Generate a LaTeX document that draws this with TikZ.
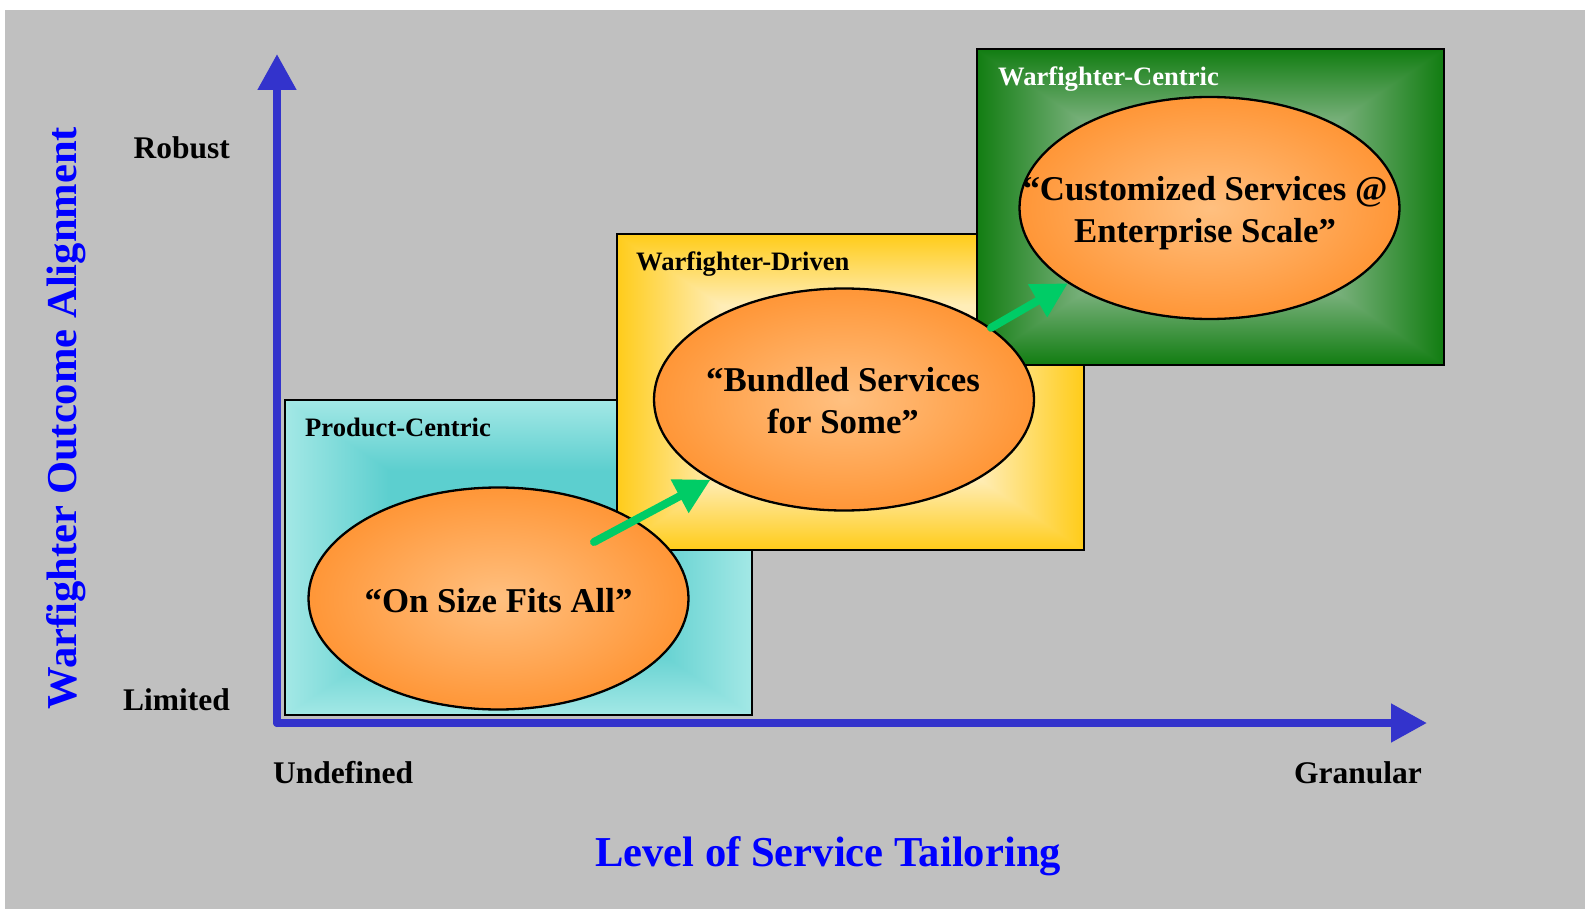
\documentclass[tikz,border=0pt]{standalone}
\usepackage{fontspec}
\setmainfont{Liberation Serif}
\usetikzlibrary{arrows.meta,shapes.geometric}

\definecolor{bggray}{HTML}{C0C0C0}
\definecolor{axisblue}{HTML}{3333CC}
\definecolor{titleblue}{HTML}{0000FF}
\definecolor{flowgreen}{HTML}{00CC66}
\definecolor{ovalin}{RGB}{255,192,128}
\definecolor{ovalout}{RGB}{255,150,55}

% Rectangular "from centre" gradient: edge colour at the border,
% inner colour reached a little more than half way in.
% #2/#4/#6 = inner - edge, #3/#5/#7 = edge (r,g,b)
\newcommand\rectgradient[7]{%
  \pgfdeclarefunctionalshading{#1}{\pgfpoint{-50bp}{-50bp}}{\pgfpoint{50bp}{50bp}}{}{%
    abs exch abs 2 copy lt {exch} if pop 25 div
    1 exch sub 0.45 div
    dup 1 gt {pop 1} if dup 0 lt {pop 0} if
    dup #2 mul #3 add exch
    dup #4 mul #5 add exch
    #6 mul #7 add}}
\rectgradient{cyanbox}{-0.28}{0.64}{-0.10}{0.91}{-0.09}{0.90}
\rectgradient{goldbox}{0}{1}{0.13}{0.80}{0.62}{0.10}
\rectgradient{greenbox}{0.40}{0.07}{0.20}{0.49}{0.41}{0.07}

\begin{document}
\begin{tikzpicture}[x=1pt,y=-1pt,
  stagebox/.style={rectangle, draw=black, line width=2pt, inner sep=0pt,
    minimum width=467, minimum height=315},
  stagelabel/.style={anchor=base west, inner sep=0pt,
    font=\fontsize{26.6}{32}\selectfont\bfseries},
  oval/.style={ellipse, draw=black, line width=2.3pt, inner sep=0pt,
    minimum width=380, minimum height=222, inner color=ovalin, outer color=ovalout},
  ovaltext/.style={align=center, anchor=base, inner sep=0pt,
    font=\fontsize{34.8}{42}\selectfont\bfseries},
  axislabel/.style={inner sep=0pt, font=\fontsize{31.5}{38}\selectfont\bfseries},
  axistitle/.style={inner sep=0pt, text=titleblue,
    font=\fontsize{42.6}{50}\selectfont\bfseries},
  axisline/.style={draw=axisblue, line width=8pt, line cap=round,
    -{Triangle[length=36pt,width=37pt]}},
  flow/.style={draw=flowgreen, line width=8pt, line cap=round,
    -{Triangle[length=35pt,width=36pt]}}]

\useasboundingbox (0,0) rectangle (1585,909);
\fill[white] (0,0) rectangle (1585,909);
\fill[bggray] (5,10) rectangle (1585,909);

% axes
\coordinate (O) at (277,723);
\coordinate (ytop) at (277,54);
\coordinate (xend) at (1427,723);
\draw[axisline] (O) -- (ytop);
\draw[axisline] (O) -- (xend);

\node[axislabel, anchor=base east] (robust) at (230,159) {Robust};
\node[axislabel, anchor=base east] (limited) at (230,710) {Limited};
\node[axislabel, anchor=base west] (undef) at (273,783) {Undefined};
\node[axislabel, anchor=base east] (gran) at (1422,783) {Granular};
\node[axistitle, anchor=base] (xtitle) at (828,866) {Level of Service Tailoring};
\node[axistitle, anchor=base, rotate=90] (ytitle) at (76,418) {Warfighter Outcome Alignment};

% stages
\node[stagebox, shading=cyanbox] (b1) at (518.5,557.5) {};
\node[stagebox, shading=goldbox] (b2) at (850,392) {};
\node[stagebox, shading=greenbox] (b3) at (1210,207) {};
\node[stagelabel] (l1) at (305,436.5) {Product-Centric};
\node[stagelabel] (l2) at (636,270.5) {Warfighter-Driven};
\node[stagelabel, text=white] (l3) at (998,86) {Warfighter-Centric};

% service models (base anchor of a two-line node sits on its last line)
\node[oval] (e1) at (498.5,598.5) {};
\node[oval] (e2) at (844,399.5) {};
\node[oval] (e3) at (1209.5,208) {};
\node[ovaltext] (t1) at (498.5,612.5) {“On Size Fits All”};
\node[ovaltext] (t2) at (843,433) {“Bundled Services\\for Some”};
\node[ovaltext] (t3) at (1205,242.5) {“Customized Services @\\Enterprise Scale”};

% progression
\coordinate (s1) at (594,542);
\draw[flow] (s1) -- (e2.211);
\draw[flow] (e2.26.6) -- (e3.208.3);
\end{tikzpicture}
\end{document}
